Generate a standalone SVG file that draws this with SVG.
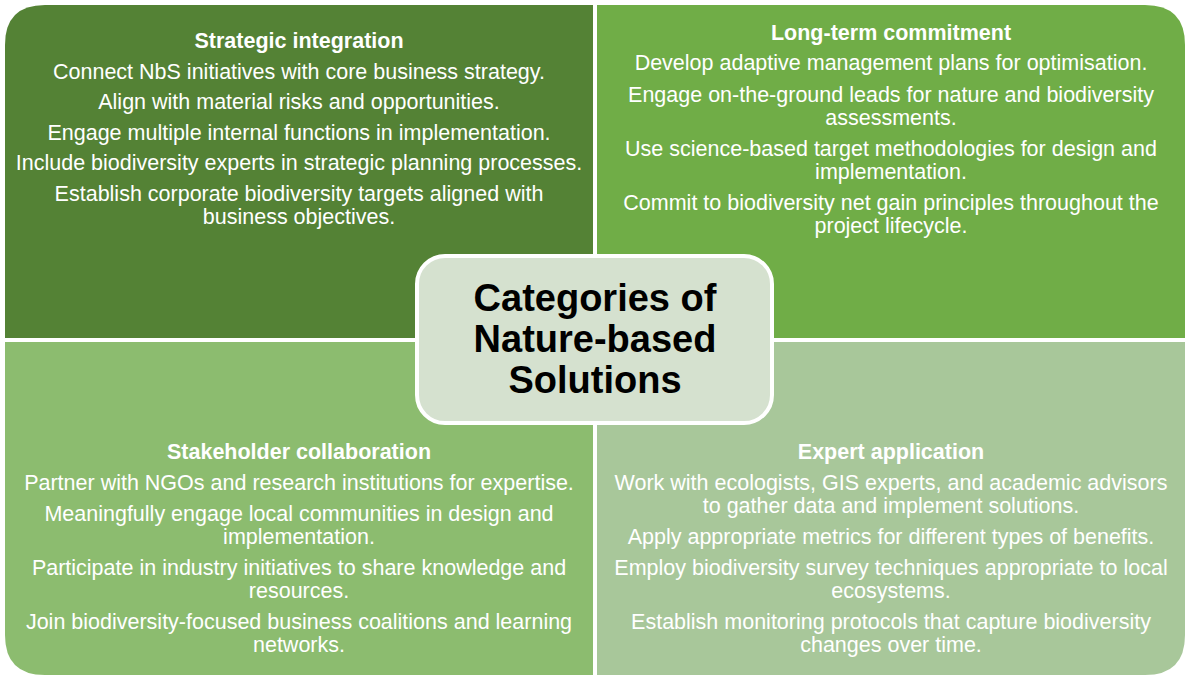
<svg xmlns="http://www.w3.org/2000/svg" width="1190" height="680" viewBox="0 0 1190 680">
<style>
text{font-family:"Liberation Sans",Arial,sans-serif;text-anchor:middle}
.t{fill:#fff;font-size:21.5px}
.h{fill:#fff;font-size:21.5px;font-weight:bold}
.c{fill:#000;font-size:38px;font-weight:bold}
</style>
<rect width="1190" height="680" fill="#fff"/>
<g id="strategic">
<path d="M5,45 Q5,5 45,5 H593 V338 H5 Z" fill="#548235"/>
<text class="h" x="299" y="48">Strategic integration</text>
<text class="t" x="299" y="79">Connect NbS initiatives with core business strategy.</text>
<text class="t" x="299" y="109">Align with material risks and opportunities.</text>
<text class="t" x="299" y="140">Engage multiple internal functions in implementation.</text>
<text class="t" x="299" y="170">Include biodiversity experts in strategic planning processes.</text>
<text class="t" x="299" y="201">Establish corporate biodiversity targets aligned with</text>
<text class="t" x="299" y="224">business objectives.</text>
</g>
<g id="longterm">
<path d="M597,5 H1145 Q1185,5 1185,45 V338 H597 Z" fill="#70AD47"/>
<text class="h" x="891" y="40">Long-term commitment</text>
<text class="t" x="891" y="70">Develop adaptive management plans for optimisation.</text>
<text class="t" x="891" y="102">Engage on-the-ground leads for nature and biodiversity</text>
<text class="t" x="891" y="125">assessments.</text>
<text class="t" x="891" y="156">Use science-based target methodologies for design and</text>
<text class="t" x="891" y="179">implementation.</text>
<text class="t" x="891" y="210">Commit to biodiversity net gain principles throughout the</text>
<text class="t" x="891" y="233">project lifecycle.</text>
</g>
<g id="stakeholder">
<path d="M5,342 H593 V675 H45 Q5,675 5,635 Z" fill="#8CBC6F"/>
<text class="h" x="299" y="459">Stakeholder collaboration</text>
<text class="t" x="299" y="490">Partner with NGOs and research institutions for expertise.</text>
<text class="t" x="299" y="521">Meaningfully engage local communities in design and</text>
<text class="t" x="299" y="544">implementation.</text>
<text class="t" x="299" y="575">Participate in industry initiatives to share knowledge and</text>
<text class="t" x="299" y="598">resources.</text>
<text class="t" x="299" y="629">Join biodiversity-focused business coalitions and learning</text>
<text class="t" x="299" y="652">networks.</text>
</g>
<g id="expert">
<path d="M597,342 H1185 V635 Q1185,675 1145,675 H597 Z" fill="#A8C79A"/>
<text class="h" x="891" y="459">Expert application</text>
<text class="t" x="891" y="490">Work with ecologists, GIS experts, and academic advisors</text>
<text class="t" x="891" y="513">to gather data and implement solutions.</text>
<text class="t" x="891" y="544">Apply appropriate metrics for different types of benefits.</text>
<text class="t" x="891" y="575">Employ biodiversity survey techniques appropriate to local</text>
<text class="t" x="891" y="598">ecosystems.</text>
<text class="t" x="891" y="629">Establish monitoring protocols that capture biodiversity</text>
<text class="t" x="891" y="652">changes over time.</text>
</g>
<g id="connectors"></g>
<g id="center">
<rect x="417" y="256" width="355" height="167" rx="28" fill="#D5E1CF" stroke="#fff" stroke-width="4"/>
<text class="c" x="595" y="311">Categories of</text>
<text class="c" x="595" y="352">Nature-based</text>
<text class="c" x="595" y="393">Solutions</text>
</g>
</svg>
